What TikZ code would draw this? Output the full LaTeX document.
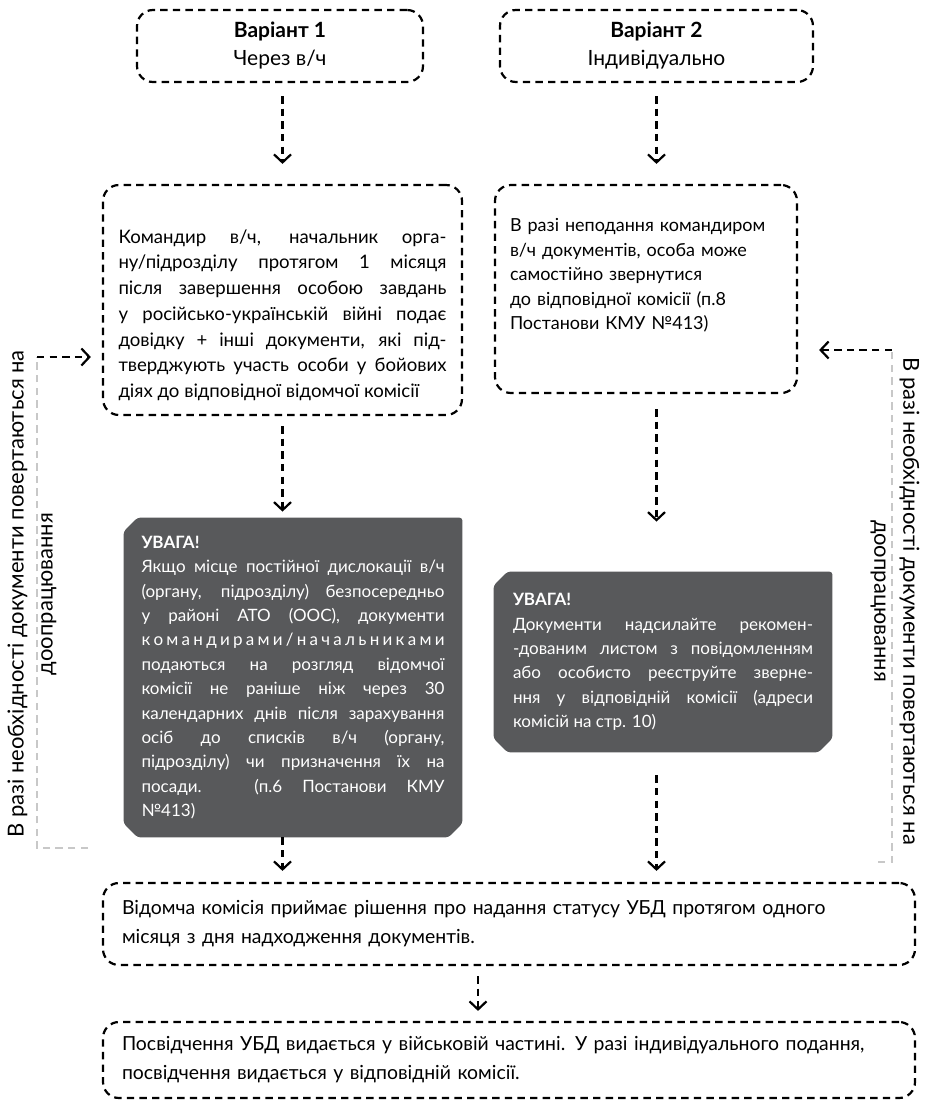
\documentclass[tikz,border=0pt]{standalone}
\usepackage{fontspec}
\setmainfont{Lato}
\usetikzlibrary{arrows.meta,backgrounds}

\definecolor{warngray}{HTML}{58595B}
\definecolor{backgray}{HTML}{C8C8C8}

\newcommand\headfont{\fontsize{10.5}{14}\selectfont}
\newcommand\flowfont{\fontsize{9.3}{12.85}\selectfont\hyphenpenalty=10000}
\newcommand\wideflowfont{\fontsize{9}{12.25}\selectfont\hyphenpenalty=10000}
\newcommand\warnfont{\fontsize{8.5}{12.2}\selectfont\hyphenpenalty=10000}
\newcommand\longfont{\fontsize{9.7}{14.5}\selectfont}
\newcommand\sidefont{\fontsize{11}{14.5}\selectfont}

\makeatletter
\newcommand\spreadword[1]{\makebox[\linewidth][s]{\@tfor\sw@c:=#1\do{\sw@c\hfil}\unskip}}
\makeatother

\begin{document}
\begin{tikzpicture}[x=0.5pt,y=-0.5pt,
    dashbox/.style={draw, line width=1.1pt, dash pattern=on 3.7pt off 2.6pt, rounded corners=8pt, inner sep=0pt},
    flow/.style={draw, line width=1.1pt, dash pattern=on 3.7pt off 2.6pt, -{Straight Barb[length=4pt,width=8.5pt]}},
    backline/.style={draw=backgray, line width=1pt, dash pattern=on 3.7pt off 2.6pt},
    warntext/.style={text=white, inner sep=0pt, align=justify, font=\warnfont}]
    \useasboundingbox (0,0) rectangle (928,1104);

    % variants
    \node[dashbox, minimum width=143pt, minimum height=36pt, align=center, font=\headfont] (var1) at (280,46) {\textbf{Варіант 1}\\Через в/ч};
    \node[dashbox, minimum width=156.5pt, minimum height=36pt, align=center, font=\headfont] (var2) at (656.5,46) {\textbf{Варіант 2}\\Індивідуально};

    % who submits
    \node[dashbox, text width=164pt, minimum width=179.5pt, minimum height=115pt, align=justify, font=\flowfont] (comA) at (282.5,300)
    {\rule{0pt}{22pt}Командир в/ч, начальник орга-\linebreak ну/підрозділу протягом 1 місяця\linebreak після завершення особою завдань\linebreak у російсько-українській війні подає\linebreak довідку + інші документи, які під-\linebreak тверджують участь особи у бойових\linebreak діях до відповідної відомчої комісії};
    \node[dashbox, text width=136pt, minimum width=151pt, minimum height=104pt, align=left, font=\wideflowfont] (indB) at (646,289)
    {В разі неподання командиром\\ в/ч документів, особа може\\ самостійно звернутися\\ до відповідної комісії (п.8\\ Постанови КМУ №413)\rule[-15pt]{0pt}{15pt}};

    % warnings
    \node[warntext, text width=151.5pt, minimum width=169pt, minimum height=159.5pt] (warnA) at (293,677.5)
    {\textbf{УВАГА!}\\ Якщо місце постійної дислокації в/ч\linebreak (органу, підрозділу) безпосередньо\linebreak у районі АТО (ООС), документи\linebreak \spreadword{командирами/начальниками}\linebreak подаються на розгляд відомчої\linebreak комісії не раніше ніж через 30\linebreak календарних днів після зарахування\linebreak осіб до списків в/ч (органу,\linebreak підрозділу) чи призначення їх на\linebreak посади. (п.6 Постанови КМУ\linebreak №413)};
    \node[warntext, text width=150pt, minimum width=169pt, minimum height=90pt] (warnB) at (663,662)
    {\textbf{УВАГА!}\\ Документи надсилайте рекомен-\linebreak -дованим листом з повідомленням\linebreak або особисто реєструйте зверне-\linebreak ння у відповідній комісії (адреси\linebreak комісій на стр. 10)};
    \begin{scope}[on background layer]
    \foreach \w in {warnA,warnB}
    \fill[warngray, rounded corners=1.5pt] ([yshift=-7pt]\w.north west) -- ([xshift=7pt]\w.north west) -- (\w.north east) -- ([yshift=7pt]\w.south east) -- ([xshift=-7pt]\w.south east) -- ([xshift=7pt]\w.south west) -- ([yshift=7pt]\w.south west) -- cycle;
    \end{scope}

    % decision and certificate
    \node[dashbox, text width=387pt, minimum width=406pt, minimum height=41pt, align=left, font=\longfont] (decC) at (509,924)
    {Відомча комісія приймає рішення про надання статусу УБД протягом одного\\ місяця з дня надходження документів.};
    \node[dashbox, text width=387pt, minimum width=406pt, minimum height=38pt, align=left, font=\longfont] (certD) at (509,1060)
    {Посвідчення УБД видається у військовій частині. У разі індивідуального подання,\\ посвідчення видається у відповідній комісії.};

    % arrows
    \draw[flow, shorten <=6.5pt, shorten >=10pt] (var1.south -| comA.south) -- (comA.north);
    \draw[flow, shorten <=6.5pt, shorten >=10pt] (var2.south) -- (var2.south |- indB.north);
    \draw[flow, shorten <=5pt, shorten >=3pt] (comA.south) -- (comA.south |- warnA.north);
    \draw[flow, shorten <=7.5pt, shorten >=25pt] (var2.south |- indB.south) -- (var2.south |- warnB.north);
    \draw[flow, shorten >=5.5pt] (comA.south |- warnA.south) -- (comA.south |- decC.north);
    \draw[flow, shorten <=11.5pt, shorten >=5.5pt] (var2.south |- warnB.south) -- (var2.south |- decC.north);
    \draw[flow, shorten <=5pt, shorten >=5pt] (478,0 |- decC.south) -- (478,0 |- certD.north);

    % returns for rework
    \coordinate (lb) at (88,848);
    \coordinate (lt) at (37,357);
    \coordinate (rb) at (878,862);
    \coordinate (rt) at (892,350);
    \draw[backline] (lb) -| (lt);
    \draw[backline] (rb) -| (rt);
    \draw[flow, shorten >=5.5pt] (lt) -- (lt -| comA.west);
    \draw[flow, shorten >=10.5pt] (rt) -- (rt -| indB.east);
    \node[rotate=90, align=center, font=\sidefont] (retL) at (32,594) {В разі необхідності документи повертаються на\\ доопрацювання};
    \node[rotate=-90, align=center, font=\sidefont] (retR) at (895,601) {В разі необхідності документи повертаються на\\ доопрацювання};
\end{tikzpicture}
\end{document}
